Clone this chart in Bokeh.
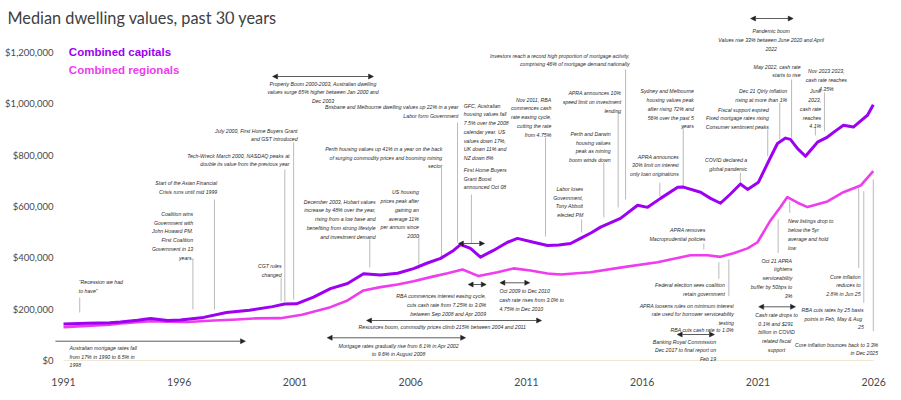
from bokeh.plotting import figure
from bokeh.models import (Range1d, FixedTicker, NumeralTickFormatter, Label, Arrow,
                          NormalHead, ColumnDataSource)
from bokeh.core.properties import value
from bokeh.embed import file_html
from bokeh.resources import INLINE

# ---------------- data (values in $) ----------------
cap_year = [1991.0, 1992.0, 1993.0, 1993.46, 1994.2, 1994.76, 1995.5, 1996.05, 1997.05, 1998.04,
            1999.03, 2000.03, 2000.55, 2001.06, 2001.8, 2002.53, 2003.27, 2003.96, 2004.69, 2005.43,
            2006.12, 2006.72, 2007.29, 2007.85, 2008.15, 2008.58, 2009.01, 2009.57, 2010.18, 2010.61,
            2011.3, 2011.91, 2012.4, 2012.9, 2013.33, 2013.8, 2014.2, 2015.06, 2015.8, 2016.23,
            2016.79, 2017.53, 2017.78, 2018.52, 2018.95, 2019.38, 2019.8, 2020.24, 2020.55, 2021.02,
            2021.41, 2021.84, 2022.19, 2022.4, 2022.71, 2023.05, 2023.57, 2024.0, 2024.35, 2024.69,
            2025.12, 2025.45, 2025.73, 2025.98]
cap_value = [142, 145, 147, 150, 157, 164, 156, 158, 168, 187,
             196, 210, 220, 221, 247, 280, 300, 338, 333, 340,
             358, 380, 398, 429, 452, 437, 403, 429, 461, 476,
             461, 448, 450, 456, 476, 498, 520, 554, 605, 597,
             632, 675, 676, 656, 632, 613, 648, 688, 667, 695,
             768, 846, 867, 862, 826, 796, 851, 871, 895, 917,
             910, 935, 956, 997]
reg_year = [1991.0, 1992.0, 1993.0, 1993.46, 1994.76, 1995.5, 1996.36, 1997.5, 1998.5, 1999.21,
            2000.37, 2001.3, 2002.53, 2003.27, 2003.96, 2004.69, 2005.43, 2006.12, 2006.85, 2007.59,
            2008.24, 2008.93, 2009.75, 2010.44, 2011.17, 2011.91, 2012.47, 2013.76, 2015.19, 2016.66,
            2018.08, 2018.82, 2019.38, 2019.94, 2020.55, 2020.98, 2021.54, 2021.97, 2022.27, 2022.71,
            2023.14, 2024.0, 2024.69, 2025.43, 2025.98]
reg_value = [130, 135, 140, 144, 153, 151, 150, 156, 160, 164,
             165, 178, 208, 234, 273, 286, 296, 309, 325, 340,
             355, 329, 344, 359, 351, 339, 335, 344, 364, 383,
             410, 410, 404, 418, 437, 461, 546, 598, 637, 615,
             598, 620, 656, 682, 738]
cap_value = [v * 1000 for v in cap_value]
reg_value = [v * 1000 for v in reg_value]

x_ticks = [1991, 1996, 2001, 2006, 2011, 2016, 2021, 2026]
y_ticks = [0, 200000, 400000, 600000, 800000, 1000000, 1200000]

series_names = ["Combined capitals", "Combined regionals"]
title_text = "Median dwelling values, past 30 years"

# event annotations: (year, value in $k at text top, alignment, text)
annotations = [
    (2002.21, 1100.0, "center", "Property Boom 2000-2003, Australian dwelling\nvalues surge 65% higher between Jan 2000 and\nDec 2003"),
    (2008.06, 1007.6, "right", "Brisbane and Melbourne dwelling values up 22% in a year\nLabor form Government"),
    (2008.29, 1014.3, "left", "GFC, Australian\nhousing values fall\n7.5% over the 2008\ncalendar year.  US\nvalues down 17%,\nUK down 11% and\nNZ down 8%"),
    (2008.29, 763.6, "left", "First Home Buyers\nGrant Boost\nannounced Oct 08"),
    (2012.07, 1037.6, "right", "Nov 2011, RBA\ncommences cash\nrate easing cycle,\ncutting the rate\nfrom 4.75%"),
    (2015.45, 1209.2, "right", "Investors reach a record high proportion of mortgage activity,\ncomprising 46% of mortgage demand nationally"),
    (2001.11, 916.8, "right", "July 2000, First Home Buyers Grant\nand GST introduced"),
    (2000.76, 819.4, "right", "Tech-Wreck March 2000, NASDAQ peaks at\ndouble its value from the previous year"),
    (1997.64, 712.9, "right", "Start of the Asian Financial\nCrisis runs until mid 1999"),
    (1996.60, 592.1, "right", "Coalition wins\nGovernment with\nJohn Howard PM.\nFirst Coalition\nGovernment in 13\nyears."),
    (1991.66, 325.5, "left", "\u201cRecession we had\nto have\u201d"),
    (2000.42, 387.9, "right", "CGT rules\nchanged"),
    (1991.26, 69.8, "left", "Australian mortgage rates fall\nfrom 17% in 1990 to 6.5% in\n1998"),
    (2007.36, 845.5, "right", "Perth housing values up 41% in a year on the back\nof surging commodity prices and booming mining\nsector"),
    (2004.48, 640.1, "right", "December 2003, Hobart values\nincrease by 48% over the year,\nrising from a low base and\nbenefiting from strong lifestyle\nand investment demand"),
    (2006.35, 676.3, "right", "US housing\nprices peak after\ngaining an\naverage 11%\nper annum since\n2000"),
    (2009.26, 270.9, "right", "RBA commences interest easing cycle,\ncuts cash rate from 7.25% to 3.0%\nbetween Sep 2008 and Apr 2009"),
    (2009.83, 290.4, "left", "Oct 2009 to Dec 2010\ncash rate rises from 3.0% to\n4.75% in Dec 2010"),
    (2007.36, 150.1, "center", "Resources boom, commodity prices climb 215% between 2004 and 2011"),
    (2005.48, 78.7, "center", "Mortgage rates gradually rise from 6.1% in Apr 2002\nto 9.6% in August 2008"),
    (2013.45, 689.6, "right", "Labor loses\nGovernment,\nTony Abbott\nelected PM"),
    (2015.09, 1062.2, "right", "APRA announces 10%\nspeed limit on investment\nlending"),
    (2014.63, 903.9, "right", "Perth and Darwin\nhousing values\npeak as mining\nboom winds down"),
    (2018.23, 1070.0, "right", "Sydney and Melbourne\nhousing values peak\nafter rising 72% and\n56% over the past 5\nyears"),
    (2017.58, 815.5, "right", "APRA announces\n30% limit on interest\nonly loan originations"),
    (2018.73, 529.7, "right", "APRA removes\nMacroprudential policies"),
    (2019.57, 315.3, "right", "Federal election sees coalition\nretain government"),
    (2019.96, 234.7, "right", "APRA loosens rules on minimum interest\nrate used for borrower serviceability\ntesting"),
    (2019.96, 141.1, "right", "RBA cuts cash rate to 1.0%"),
    (2019.19, 94.3, "right", "Banking Royal Commission\nDec 2017 to final report on\nFeb 19"),
    (2020.53, 802.6, "right", "COVID declared a\nglobal pandemic"),
    (2021.47, 998.7, "right", "Fiscal support expired\nFixed mortgage rates rising\nConsumer sentiment peaks"),
    (2022.26, 1070.0, "right", "Dec 21 Qtrly inflation\nrising at more than 1%"),
    (2022.84, 1166.3, "right", "May 2022, cash rate\nstarts to rise"),
    (2021.57, 1303.9, "center", "Pandemic boom\nValues rise 33% between June 2020 and April\n2022"),
    (2023.95, 1148.0, "center", "Nov 2023 2023,\ncash rate reaches\n4.35%"),
    (2023.73, 1070.0, "right", "June\n2023,\ncash rate\nreaches\n4.1%"),
    (2022.30, 563.3, "left", "New listings drop to\nbelow the 5yr\naverage and hold\nlow"),
    (2022.48, 410.1, "right", "Oct 21 APRA\ntightens\nserviceability\nbuffer by 50bps to\n3%"),
    (2025.43, 347.7, "right", "Core inflation\nreduces to\n2.8% in Jun 25"),
    (2025.57, 217.9, "right", "RBA cuts rates by 25 basis\npoints in Feb,  May & Aug\n25"),
    (2026.19, 82.6, "right", "Core inflation bounces back to 3.3%\nin Dec 2025"),
    (2021.80, 198.4, "center", "Cash rate drops to\n0.1% and  $291\nbillion in COVID\nrelated fiscal\nsupport"),
]
TEXT_DROP_K = 9.7  # fine vertical nudge of all annotation texts, in $k

# leader lines: (year, top $k, bottom $k)
leaders = [
    (1991.70, 245.6, 187.1), (1996.59, 397.6, 198.8), (1997.52, 627.6, 198.8),
    (2000.40, 323.5, 230.0), (2000.56, 744.5, 230.0), (2000.94, 849.8, 237.8),
    (2004.23, 471.7, 362.5), (2006.35, 491.1, 354.7), (2007.33, 752.3, 401.5),
    (2008.02, 927.7, 460.0), (2008.62, 647.1, 456.1), (2011.82, 869.3, 483.4),
    (2013.38, 549.6, 498.9), (2014.34, 771.8, 557.4), (2014.96, 970.6, 596.4),
    (2015.28, 1134.3, 627.6), (2016.76, 692.7, 640.4), (2017.77, 913.3, 679.4),
    (2018.66, 456.1, 432.7), (2019.31, 383.2, 318.5), (2019.74, 393.7, 250.6),
    (2020.24, 731.6, 686.0), (2021.42, 900.4, 796.4), (2021.94, 1004.5, 861.5),
    (2022.45, 1095.3, 868.1), (2023.48, 907.1, 877.1), (2023.87, 1044.7, 893.8),
    (2022.37, 620.9, 575.7), (2021.87, 549.6, 419.8), (2025.35, 674.4, 361.3),
    (2025.57, 659.9, 224.9), (2025.98, 705.5, 114.2),
]

# period arrows: (start year, end year, $k, double headed)
periods = [
    (2000.03, 2004.39, 1107.0, True), (1990.65, 1998.86, 75.2, False),
    (2008.06, 2009.19, 456.1, True), (2008.48, 2009.26, 296.2, True),
    (2009.85, 2011.14, 302.9, True), (2004.09, 2011.65, 155.9, True),
    (2002.39, 2008.37, 88.5, True), (2017.51, 2019.12, 101.3, True),
    (2021.03, 2022.62, 209.3, True), (2020.68, 2022.52, 1333.1, True),
]

CAP_COLOR = "#9d00f2"
REG_COLOR = "#ee3cee"
TEXT_GREY = "#4a4a4a"

X_START, X_END = 1988.278, 2026.551
YAXIS_AT = 1990.611
TITLE_X = 1988.58

p = figure(frame_width=886, frame_height=356, min_border_left=0, min_border_right=5,
           min_border_top=11, min_border_bottom=24,
           x_range=Range1d(X_START, X_END), y_range=Range1d(-27286, 1360402),
           output_backend="svg", toolbar_location=None, tools="")
p.outline_line_color = None
p.background_fill_color = "white"
p.border_fill_color = "white"
p.xgrid.visible = False
p.ygrid.visible = False

p.xaxis.ticker = FixedTicker(ticks=x_ticks)
p.xaxis.formatter = NumeralTickFormatter(format="0")
p.yaxis.ticker = FixedTicker(ticks=y_ticks)
p.yaxis.formatter = NumeralTickFormatter(format="$0,0")
p.yaxis.fixed_location = YAXIS_AT
for ax in (p.xaxis[0], p.yaxis[0]):
    ax.axis_line_color = None
    ax.major_tick_line_color = None
    ax.minor_tick_line_color = None
    ax.major_tick_out = 0
    ax.major_tick_in = 0
    ax.minor_tick_out = 0
    ax.major_label_text_font = "Lato"
    ax.major_label_text_color = TEXT_GREY
p.xaxis.major_label_text_font_size = "10.5px"
p.xaxis.major_label_standoff = 10
p.yaxis.major_label_text_font_size = "9.5px"
p.yaxis.major_label_standoff = 1

# baseline
p.segment(x0=[x_ticks[0]], y0=[0], x1=[x_ticks[-1]], y1=[0], line_color="#f1e7d3", line_width=1.2)

# leaders
p.segment(x0=[l[0] for l in leaders], y0=[l[1] * 1000 for l in leaders],
          x1=[l[0] for l in leaders], y1=[l[2] * 1000 for l in leaders],
          line_color="#a8a8a8", line_width=0.8)

# series
p.line(reg_year, reg_value, line_color=REG_COLOR, line_width=2.6, line_join="round")
p.line(cap_year, cap_value, line_color=CAP_COLOR, line_width=3, line_join="round")

# arrows
for x0, x1, yv, both in periods:
    end = NormalHead(size=5, fill_color="#222222", line_color="#222222", line_width=0.5)
    start = NormalHead(size=5, fill_color="#222222", line_color="#222222", line_width=0.5) if both else None
    p.add_layout(Arrow(x_start=x0, y_start=yv * 1000, x_end=x1, y_end=yv * 1000,
                       start=start, end=end, line_color="#333333", line_width=0.8))

# annotation texts
for align in ("left", "center", "right"):
    rows = [a for a in annotations if a[2] == align]
    src = ColumnDataSource(dict(x=[r[0] for r in rows],
                                y=[(r[1] - TEXT_DROP_K) * 1000 for r in rows],
                                t=[r[3] for r in rows]))
    p.text(x="x", y="y", text="t", source=src, text_align=align, text_baseline="top",
           text_font=value("Liberation Sans"), text_font_style="italic",
           text_font_size="5.2px", text_color="#2a2a2a", text_line_height=1.45)

# legend-like labels
p.add_layout(Label(x=1991.23, y=1201800, text=series_names[0], text_color=CAP_COLOR,
                   text_font="Liberation Sans", text_font_style="bold", text_font_size="11.5px",
                   text_baseline="middle"))
p.add_layout(Label(x=1991.23, y=1134300, text=series_names[1], text_color=REG_COLOR,
                   text_font="Liberation Sans", text_font_style="bold", text_font_size="11.5px",
                   text_baseline="middle"))

# title
p.add_layout(Label(x=TITLE_X, y=1337000, text=title_text, text_color="#404040",
                   text_font="Lato", text_font_size="16.3px", text_baseline="middle"))

open("out.html", "w").write(file_html(p, INLINE))
